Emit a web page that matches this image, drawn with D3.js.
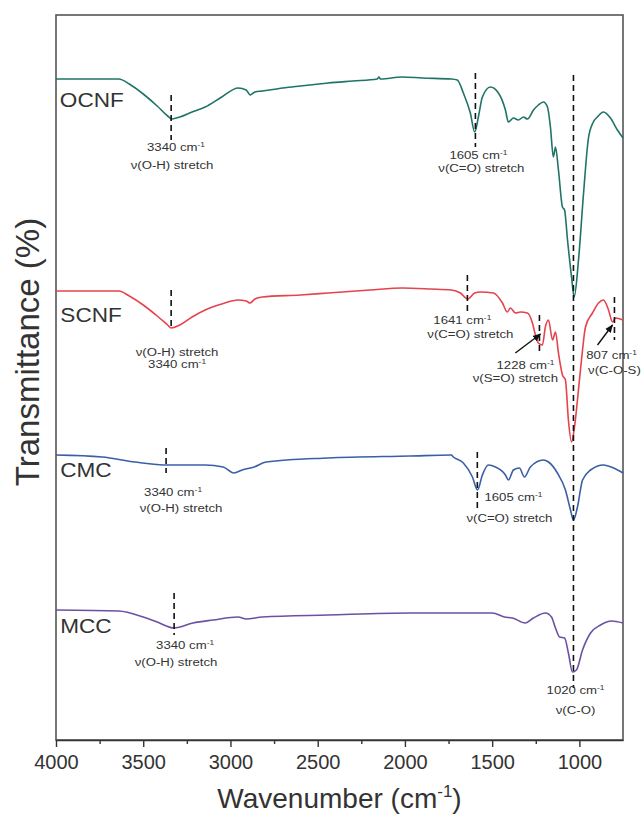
<!DOCTYPE html>
<html lang="en">
<head>
<meta charset="UTF-8">
<title>FTIR spectra</title>
<style>
  body { margin: 0; background: #fff; }
  svg text { font-family: "Liberation Sans", Arial, sans-serif; fill: #222; }
  .frame { fill: none; stroke: #555; stroke-width: 1.6; }
  .axis path, .axis line { stroke: #333; stroke-width: 1.4; }
  .axis text { font-size: 20px; fill: #333; }
  .spec { fill: none; stroke-width: 1.6; }
  .dash { stroke: #111; stroke-width: 1.6; stroke-dasharray: 6,4; }
</style>
</head>
<body>
<svg id="chart" width="642" height="819"></svg>
<script src="https://cdn.jsdelivr.net/npm/d3@7"></script>
<script>
  "use strict";

  // spectra: [wavenumber, stacked transmittance]
  var ocnfData = [[4000,132.2],[3640,132.2],[3580,131.2],[3500,129.2],[3420,126.8],[3360,124.8],[3335,124.2],
    [3290,124.6],[3220,125.6],[3145,126.6],[3050,128.6],[2956,130.4],[2910,130],[2887,129],[2860,129.6],[2818,129.8],
    [2700,130.4],[2600,130.8],[2440,131.4],[2300,131.8],[2158,132.2],[2150,132.6],[2140,132.2],[2015,132.6],[1900,132.4],
    [1734,132.2],[1700,132],[1665,129.4],[1625,125.4],[1600,121.6],[1579,124.6],[1556,128.6],[1510,130.6],[1464,129.4],
    [1424,126],[1407,123.6],[1378,124.4],[1350,124],[1320,124.6],[1298,124.2],[1263,126],[1235,127],[1206,127.6],
    [1183,126.6],[1166,122.6],[1149,116.6],[1137,118.6],[1120,114],[1097,106.6],[1085,106],[1068,100],[1045,92.6],
    [1030,88.6],[1005,96],[976,109.4],[948,120.4],[920,123.6],[897,124.6],[862,125.6],[822,124.4],[782,122],[750,120.4]];

  var scnfData = [[4000,89.8],[3640,89.8],[3580,88.8],[3500,87],[3420,84.8],[3360,83],[3340,82.4],[3290,83],
    [3220,84.6],[3145,86],[3050,87.2],[2956,88],[2910,87.8],[2887,87.4],[2860,88.2],[2818,88.6],[2600,89],[2440,89.4],
    [2200,90],[2015,90.4],[1850,90.2],[1734,90],[1682,89.4],[1641,88.2],[1600,89.4],[1567,89.6],[1493,89.4],[1441,87.4],
    [1413,85.6],[1395,86.4],[1367,85.4],[1338,85.6],[1298,85.4],[1269,83.4],[1252,81],[1235,79.4],[1212,79],[1195,82.6],
    [1177,84],[1154,80],[1137,81.6],[1120,77.4],[1097,73],[1080,72],[1063,64],[1045,59.6],[1028,62.6],[1011,68],
    [988,76],[965,82.6],[925,85.4],[890,87.4],[862,88],[833,86],[810,83.6],[793,84.4],[750,84]];

  var cmcData = [[4000,57],[3736,56.6],[3547,55.6],[3358,55],[3145,55],[3042,54.6],[2980,53.4],[2933,54],
    [2864,54.6],[2795,55.6],[2440,56.4],[1969,56.8],[1734,57],[1722,56.6],[1665,55.4],[1613,52.6],[1584,50],[1556,53],
    [1522,55],[1481,54.6],[1424,53],[1407,52],[1378,54],[1344,54.4],[1315,52.6],[1281,54.6],[1206,56],[1177,55.6],
    [1126,53.4],[1080,50],[1051,46],[1034,44],[1011,46.6],[982,52],[936,54],[862,55],[804,54.4],[750,53.4]];

  var mccData = [[4000,26],[3640,25.8],[3500,24.6],[3420,23.6],[3323,22.4],[3215,23.4],[3100,24],[2956,24.6],
    [2910,24.2],[2818,24.6],[2440,25],[1969,25.4],[1499,25.4],[1430,24.6],[1384,24.4],[1310,23.4],[1263,24.4],
    [1195,25.4],[1160,24.6],[1137,22.4],[1114,20.6],[1085,20.4],[1063,17.4],[1040,13.6],[1017,14],[982,18],
    [936,21.4],[879,23],[816,23.8],[750,23.4]];

  var seriesNames = ["OCNF", "SCNF", "CMC", "MCC"];
  var seriesColors = ["#1f7466", "#e5434e", "#3a5fa6", "#6a52a2"];
  var seriesLabelPos = [[3978,126.6],[3975,83.6],[3976,52.6],[3976,21.4]];
  var xTicks = [4000, 3500, 3000, 2500, 2000, 1500, 1000];
  var xMinorTicks = [3750, 3250, 2750, 2250, 1750, 1250];

  // dashed peak markers: [wavenumber, top, bottom]
  var peakLines = [[3340,129,120],[1596,133.4,118.6],[1034,133,10.4],[3340,90,82.4],[1642,93,85.4],
    [1229,85,77.4],[799,88.6,80],[3369,58.4,53.4],[1585,57.6,46],[3323,29.4,21]];

  // peak labels: [wavenumber, value, text, superscript]
  var peakLabels = [
    [3312,117.8,"3340 cm","-1"],[3335,114.2,"ν(O-H) stretch",""],
    [1579,116.2,"1605 cm","-1"],[1562,113.6,"ν(C=O) stretch",""],
    [3306,76.8,"ν(O-H) stretch",""],[3306,74.4,"3340 cm","-1"],
    [1671,83.2,"1641 cm","-1"],[1625,80.4,"ν(C=O) stretch",""],
    [1309,74.2,"1228 cm","-1"],[1367,71.6,"ν(S=O) stretch",""],
    [816,76.2,"807 cm","-1"],[799,73.2,"ν(C-O-S)",""],
    [3329,48.8,"3340 cm","-1"],[3283,45.6,"ν(O-H) stretch",""],
    [1378,47.8,"1605 cm","-1"],[1401,43.6,"ν(C=O) stretch",""],
    [3260,18.2,"3340 cm","-1"],[3312,14.8,"ν(O-H) stretch",""],
    [1022,9.2,"1020 cm","-1"],[1022,5.2,"ν(C-O)",""]
  ];

  var arrows = [[1367,77.4,1223,81.2],[896,79,810,83]];

  var svg = d3.select("#chart");
  var mLeft = 56, mRight = 623, mTop = 15, mBottom = 740;

  var x = d3.scaleLinear().domain([4000, 750]).range([mLeft, mRight]);
  var y = d3.scaleLinear().domain([0, 145]).range([mBottom, mTop]);

  svg.append("defs").append("marker")
    .attr("id", "head")
    .attr("viewBox", "0 0 10 10")
    .attr("refX", 9).attr("refY", 5)
    .attr("markerWidth", 6).attr("markerHeight", 6)
    .attr("orient", "auto")
    .append("path").attr("d", "M0,1 L10,5 L0,9 z").attr("fill", "#111");

  svg.append("rect").attr("class", "frame")
    .attr("x", mLeft).attr("y", mTop)
    .attr("width", mRight - mLeft).attr("height", mBottom - mTop);

  // bottom axis
  svg.append("g")
    .attr("class", "axis")
    .attr("transform", "translate(0," + mBottom + ")")
    .call(d3.axisBottom(x).tickValues(xTicks).tickSize(7).tickPadding(8).tickFormat(d3.format("d")).tickSizeOuter(0));

  svg.append("g")
    .attr("class", "axis")
    .attr("transform", "translate(0," + mBottom + ")")
    .call(d3.axisBottom(x).tickValues(xMinorTicks).tickSize(4).tickFormat("").tickSizeOuter(0))
    .select(".domain").remove();

  var line = d3.line()
    .x(function(d){ return x(d[0]); })
    .y(function(d){ return y(d[1]); })
    .curve(d3.curveMonotoneX);

  var allData = [ocnfData, scnfData, cmcData, mccData];

  svg.append("g").selectAll("path")
    .data(allData)
    .enter()
    .append("path")
    .attr("class", "spec")
    .attr("stroke", function(d,i){ return seriesColors[i]; })
    .attr("d", line);

  // series names
  svg.append("g").selectAll("text")
    .data(seriesNames)
    .enter()
    .append("text")
    .attr("transform", function(d,i){
      return "translate(" + x(seriesLabelPos[i][0]) + "," + y(seriesLabelPos[i][1]) + ") scale(1.13,1)";
    })
    .style("font-size", "20px")
    .style("fill", "#333")
    .text(function(d){ return d; });

  // dashed markers
  svg.append("g").selectAll("line")
    .data(peakLines)
    .enter()
    .append("line")
    .attr("class", "dash")
    .attr("x1", function(d){ return x(d[0]); })
    .attr("x2", function(d){ return x(d[0]); })
    .attr("y1", function(d){ return y(d[1]); })
    .attr("y2", function(d){ return y(d[2]); });

  // arrows
  svg.append("g").selectAll("line")
    .data(arrows)
    .enter()
    .append("line")
    .attr("stroke", "#111")
    .attr("stroke-width", 1.4)
    .attr("marker-end", "url(#head)")
    .attr("x1", function(d){ return x(d[0]); })
    .attr("y1", function(d){ return y(d[1]); })
    .attr("x2", function(d){ return x(d[2]); })
    .attr("y2", function(d){ return y(d[3]); });

  // peak labels
  var lbl = svg.append("g").selectAll("text")
    .data(peakLabels)
    .enter()
    .append("text")
    .attr("transform", function(d){
      return "translate(" + x(d[0]) + "," + y(d[1]) + ") scale(1.2,1)";
    })
    .attr("text-anchor", "middle")
    .style("font-size", "11px")
    .style("fill", "#333");
  lbl.append("tspan").text(function(d){ return d[2]; });
  lbl.filter(function(d){ return d[3]; })
    .append("tspan")
    .attr("dy", -4)
    .style("font-size", "7px")
    .text(function(d){ return d[3]; });

  // axis titles
  var xt = svg.append("text")
    .attr("x", (mLeft + mRight) / 2)
    .attr("y", 808)
    .attr("text-anchor", "middle")
    .style("font-size", "28px")
    .style("fill", "#333");
  xt.append("tspan").text("Wavenumber (cm");
  xt.append("tspan").attr("dy", -11).style("font-size", "17px").text("-1");
  xt.append("tspan").attr("dy", 11).text(")");

  svg.append("text")
    .attr("transform", "translate(39,352) rotate(-90)")
    .attr("text-anchor", "middle")
    .style("font-size", "33px")
    .style("fill", "#333")
    .text("Transmittance (%)");
</script>
</body>
</html>
